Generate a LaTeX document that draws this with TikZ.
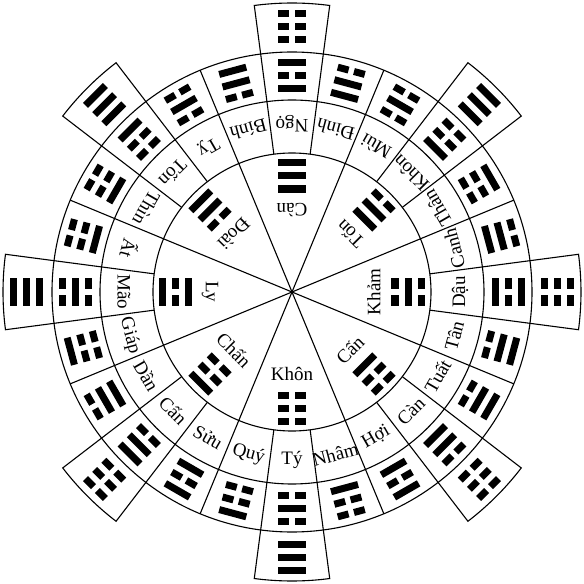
\documentclass[tikz,border=0pt]{standalone}
\usepackage{fontspec}
\setmainfont{Liberation Serif}
\newcommand\mytl[2]{%
  \ifnum#2=1
    \fill (-14,#1-3.5) rectangle (14,#1+3.5);
  \else
    \fill (-14,#1-3.5) rectangle (-2.8,#1+3.5);
    \fill (2.8,#1-3.5) rectangle (14,#1+3.5);
  \fi}
\newcommand\mytrig[5]{%
  \begin{scope}[shift={(#1:#2)}, rotate=#1-90]
    \mytl{-13}{#3}\mytl{0}{#4}\mytl{13}{#5}
  \end{scope}}
\begin{document}
\begin{tikzpicture}[x=1pt,y=1pt,line width=1.1pt,
  lab/.style={font=\fontsize{19}{19}\selectfont, inner sep=0pt}]
\useasboundingbox (-292,-292) rectangle (292,292);
% outer tabs
\foreach \a/\pa/\pb/\pc [count=\i] in {90/0/0/0,45/1/1/1,0/0/0/0,-45/0/0/0,-90/1/1/1,-135/0/0/0,180/1/1/1,135/1/1/1}{
  \draw (\a-7.5:240) -- (\a-7.5:289) arc[start angle=\a-7.5, end angle=\a+7.5, radius=289] -- (\a+7.5:240);
  \mytrig{\a}{265}{\pa}{\pb}{\pc}
}
% circles
\draw (0,0) circle[radius=139];
\draw (0,0) circle[radius=192];
\draw (0,0) circle[radius=240];
% ring dividers
\foreach \k in {0,...,23}{
  \draw (7.5+15*\k:139) -- (7.5+15*\k:240);
}
% spokes
\foreach \k in {0,...,7}{
  \draw (0,0) -- (22.5+45*\k:139);
}
% ring trigrams and labels
\foreach \a/\t/\pa/\pb/\pc [count=\i] in {
  90/Ngọ/1/0/1, 75/Đinh/1/1/0, 60/Mùi/0/1/0, 45/Khôn/1/0/0,
  30/Thân/0/0/1, 15/Canh/1/1/0, 0/Dậu/1/0/1, -15/Tân/0/1/1,
  -30/Tuất/0/1/1, -45/Càn/1/1/0, -60/Hợi/1/0/1, -75/Nhâm/1/0/0,
  -90/Tý/0/1/0, -105/Quý/0/0/1, -120/Sửu/1/0/1, -135/Cấn/0/1/1,
  -150/Dần/1/1/0, -165/Giáp/0/0/1, 180/Mão/0/1/0, 165/Ất/1/0/0,
  150/Thìn/1/0/0, 135/Tốn/0/0/1, 120/Tỵ/0/1/0, 105/Bính/0/1/1}{
  \mytrig{\a}{216}{\pa}{\pb}{\pc}
  \node[lab, rotate=\a+90] (m\i) at (\a:168) {\t};
}
% inner trigrams and names
\foreach \a/\t/\pa/\pb/\pc [count=\i] in {
  90/Càn/1/1/1, 45/Tốn/1/1/0, 0/Khảm/0/1/0, -45/Cấn/1/0/0,
  -90/Khôn/0/0/0, -135/Chấn/0/0/1, 180/Ly/1/0/1, 135/Đoài/0/1/1}{
  \mytrig{\a}{116}{\pa}{\pb}{\pc}
  \node[lab, rotate=\a+90] (g\i) at (\a:82) {\t};
}
\end{tikzpicture}
\end{document}
